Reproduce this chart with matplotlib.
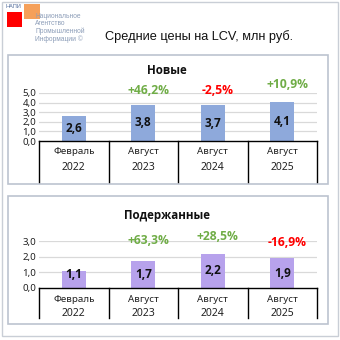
import matplotlib.pyplot as plt
from matplotlib.patches import Rectangle
from matplotlib.transforms import blended_transform_factory as blend

# prices, mln rub
periods = ['Февраль', 'Август', 'Август', 'Август']
years = ['2022', '2023', '2024', '2025']
new_prices = [2.6, 3.8, 3.7, 4.1]
new_change = ['', '+46,2%', '-2,5%', '+10,9%']
used_prices = [1.1, 1.7, 2.2, 1.9]
used_change = ['', '+63,3%', '+28,5%', '-16,9%']

GREEN = '#70AD47'
RED = '#FF0000'
BOLD = 'Open Sans'
REG = 'Noto Sans'
W = H = 340.0

fig = plt.figure(figsize=(3.4, 3.4), dpi=100)
fig.patch.set_facecolor('white')

# overlay in pixel coords for frames and logo
bg = fig.add_axes([0, 0, 1, 1])
bg.set_xlim(0, W)
bg.set_ylim(H, 0)
bg.axis('off')
bg.add_patch(Rectangle((1.5, 1.5), 336, 334, fill=False, ec='#C9CED6', lw=1))
bg.add_patch(Rectangle((8, 55), 320, 129, fill=False, ec='#BCC3CF', lw=1.2))
bg.add_patch(Rectangle((8, 196), 320, 128, fill=False, ec='#BCC3CF', lw=1.2))

# logo
bg.add_patch(Rectangle((7, 12), 15, 15, color='#FF0000', lw=0))
bg.add_patch(Rectangle((24, 4), 16, 15, color='#F5A05A', lw=0))
bg.text(5, 6, 'НАПИ', fontsize=4, color='#4F6A9A', va='center', family='Liberation Sans')
logo_lines = ['Национальное', 'Агентство', 'Промышленной', 'Информации ©']
for i, s in enumerate(logo_lines):
    bg.text(35, 16 + i * 7.7, s, fontsize=4.8, color='#8C9DB8', va='center',
            family='Liberation Sans')
bg.text(199, 37, 'Средние цены на LCV, млн руб.', fontsize=9.2, ha='center', va='center',
        family='Liberation Sans', color='#111111')


def panel(y0_px, top_px, ymax, ticks, values, changes, color, title, title_y, table_h, change_y):
    h_px = y0_px - top_px
    ax = fig.add_axes([39 / W, (H - y0_px) / H, 278 / W, h_px / H])
    x = list(range(len(values)))
    bars = ax.bar(x, values, width=0.345, color=color, zorder=2)
    ax.set_xlim(-0.5, len(values) - 0.5)
    ax.set_ylim(0, ymax)
    ax.set_yticks(ticks)
    ax.set_yticklabels([f'{t:.1f}'.replace('.', ',') for t in ticks], family=REG,
                       fontsize=7, color='#222222')
    ax.tick_params(axis='y', length=0, pad=2)
    ax.set_xticks([])
    for t in ticks[1:]:
        ax.axhline(t, color='#D9D9D9', lw=0.9, zorder=1)
    for s in ['top', 'right', 'left']:
        ax.spines[s].set_visible(False)
    ax.spines['bottom'].set_color('black')
    ax.spines['bottom'].set_linewidth(1)

    # value labels centred in bars, lifted a bit on short bars
    for b, v in zip(bars, values):
        off_px = max(v / 2 * h_px / ymax, 13)
        ax.annotate(f'{v:.1f}'.replace('.', ','), (b.get_x() + b.get_width() / 2, 0),
                    xytext=(0, off_px * 0.72), textcoords='offset points', ha='center',
                    va='center', fontsize=8.5, fontweight='bold', family=BOLD,
                    color='#111111')

    # percent changes
    tr = blend(ax.transData, ax.transAxes)
    for i, c in enumerate(changes):
        if not c:
            continue
        col = RED if c.startswith('-') else GREEN
        ax.text(i + 0.07, (y0_px - change_y[i]) / h_px, c, transform=tr,
                ha='center', va='center', fontsize=8.7, fontweight='bold', color=col,
                family=BOLD)

    # category table under the axis
    depth = table_h / h_px
    for i in range(len(values) + 1):
        ax.plot([i - 0.5, i - 0.5], [0, -depth], transform=tr, color='black', lw=1,
                clip_on=False)
    for i in x:
        ax.text(i, -11 / h_px, periods[i], transform=tr, ha='center',
                va='center', fontsize=7, family=REG, color='#222222')
        ax.text(i, -26 / h_px, years[i], transform=tr, ha='center',
                va='center', fontsize=7.5, family=REG, color='#222222')

    bg.text(167, title_y, title, ha='center', va='center', fontsize=8.3, fontweight='bold',
            family=BOLD, color='#111111')
    return ax


panel(141, 93, 5, [0, 1, 2, 3, 4, 5], new_prices, new_change, '#8EA9DB', 'Новые', 71, 41,
      [0, 91, 91, 85])
panel(288, 241, 3, [0, 1, 2, 3], used_prices, used_change, '#B7A2EC', 'Подержанные', 216, 30,
      [0, 241, 237, 242])

fig.savefig('out.png', dpi=100, facecolor='white')
